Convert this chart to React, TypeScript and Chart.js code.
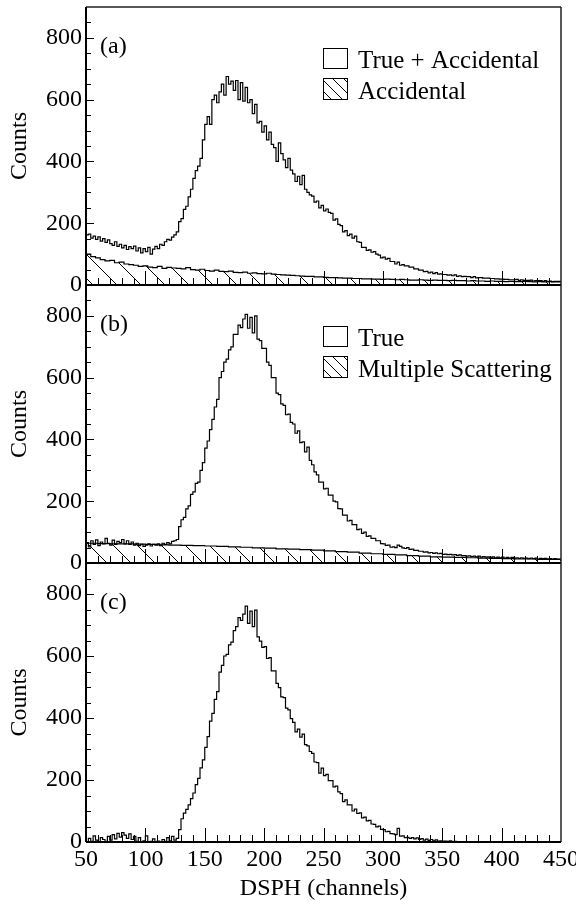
import React, { useEffect, useRef } from 'react';
import { Chart, registerables } from 'chart.js';

Chart.register(...registerables);

// ---------------- data ----------------
const FIRST_CHANNEL = 50;
const MAIN_BIN = 2;   // channels per bin, main histograms
const ACC_BIN = 4;    // channels per bin, accidental histogram
const MS_BIN = 10;    // channels per bin, multiple-scattering estimate

const xTickLabels = [50, 100, 150, 200, 250, 300, 350, 400, 450];
const yTickLabels = [0, 200, 400, 600, 800];

// (a) True + Accidental
const trueAccidental = [
  170, 162, 165, 152, 158, 148, 156, 142, 150, 138,
  146, 134, 128, 140, 125, 132, 120, 128, 115, 124,
  118, 126, 110, 120, 104, 118, 108, 122, 100, 116,
  125, 118, 132, 128, 140, 148, 145, 155, 162, 172,
  205, 215, 245, 255, 285, 310, 345, 370, 385, 410,
  470, 520, 545, 520, 600, 615, 590, 625, 650, 615,
  675, 650, 660, 630, 662, 600, 655, 595, 640, 590,
  600, 555, 585, 525, 530, 495, 515, 470, 495, 455,
  445, 400, 460, 425, 405, 380, 410, 372, 360, 335,
  352, 325, 355, 310, 300, 292, 288, 268, 272, 250,
  258, 240, 246, 235, 232, 210, 214, 196, 192, 172,
  176, 160, 165, 152, 158, 140, 138, 122, 122, 112,
  114, 106, 108, 100, 97, 88, 90, 84, 86, 76,
  76, 68, 74, 64, 66, 62, 62, 58, 58, 52,
  52, 48, 48, 43, 44, 39, 42, 37, 40, 35,
  36, 34, 34, 32, 33, 30, 33, 28, 30, 27,
  28, 27, 27, 24, 27, 23, 24, 24, 22, 22,
  22, 21, 21, 20, 20, 19, 19, 18, 18, 17,
  17, 17, 18, 15, 17, 15, 15, 15, 16, 13,
  14, 14, 14, 12, 14, 11, 13, 11, 12, 12,
];

// (a) Accidental
const accidental = [
  118, 100, 92, 88, 82, 78, 80, 72, 74, 68,
  66, 64, 60, 62, 58, 56, 60, 54, 57, 55,
  54, 52, 56, 50, 48, 51, 47, 45, 48, 44,
  43, 45, 41, 40, 42, 38, 39, 37, 36, 38,
  35, 34, 33, 32, 31, 30, 29, 28, 28, 26,
  26, 25, 24, 24, 23, 22, 22, 21, 21, 20,
  20, 19, 19, 18, 19, 18, 17, 18, 17, 16,
  16, 17, 16, 15, 16, 15, 15, 14, 15, 14,
  14, 13, 14, 13, 13, 12, 13, 12, 12, 11,
  12, 11, 11, 12, 11, 10, 11, 10, 11, 10,
];

// (b) True
const trueB = [
  58, 66, 52, 72, 60, 75, 56, 68, 62, 80,
  64, 58, 74, 60, 70, 66, 76, 62, 72, 60,
  68, 58, 64, 56, 60, 54, 58, 62, 55, 60,
  58, 62, 56, 64, 60, 66, 62, 70, 72, 76,
  118, 140, 148, 175, 185, 222, 230, 258, 262, 300,
  325, 372, 395, 432, 465, 505, 530, 600, 620, 650,
  660, 690, 700, 740, 740, 770, 762, 790, 805, 760,
  795, 745, 800, 725, 720, 695, 695, 650, 640, 600,
  600, 550, 545, 515, 510, 480, 482, 455, 450, 420,
  428, 390, 392, 360, 375, 332, 318, 295, 285, 262,
  262, 240, 242, 220, 220, 200, 198, 176, 175, 155,
  155, 136, 138, 124, 124, 108, 110, 96, 100, 86,
  88, 80, 80, 72, 72, 63, 62, 57, 58, 51,
  52, 50, 58, 54, 49, 47, 50, 44, 45, 41,
  41, 38, 38, 35, 36, 33, 34, 31, 33, 30,
  31, 28, 29, 27, 28, 26, 27, 25, 26, 24,
  24, 22, 23, 21, 22, 20, 22, 19, 21, 19,
  20, 18, 20, 17, 19, 17, 19, 16, 18, 16,
  18, 15, 17, 15, 17, 15, 16, 14, 16, 14,
  16, 13, 15, 14, 15, 13, 14, 13, 14, 13,
];

// (b) Multiple Scattering
const multipleScattering = [
  65, 64, 63, 62, 62, 61, 60, 59, 58, 57,
  56, 55, 54, 52, 51, 49, 48, 46, 45, 43,
  42, 39, 37, 35, 32, 30, 28, 26, 24, 22,
  20, 19, 18, 17, 16, 15, 14, 13, 13, 12,
];

// (c) True (subtracted)
const trueC = [
  4, 0, 12, 2, 20, 6, 0, 14, 8, 2,
  18, 6, 24, 10, 28, 16, 30, 22, 12, 26,
  8, 18, 2, 14, 0, 4, 20, 0, 2, 10,
  0, 3, 0, 8, 2, 14, 4, 18, 6, 12,
  40, 75, 93, 105, 120, 140, 158, 185, 205, 239,
  265, 305, 340, 390, 415, 460, 485, 548, 570, 600,
  605, 636, 645, 682, 695, 724, 715, 735, 761, 705,
  745, 695, 748, 662, 648, 628, 630, 592, 595, 552,
  552, 512, 498, 468, 466, 432, 426, 398, 386, 355,
  364, 338, 348, 314, 310, 292, 286, 258, 256, 222,
  238, 214, 218, 198, 198, 178, 180, 162, 156, 130,
  136, 120, 120, 100, 106, 92, 94, 78, 80, 68,
  70, 58, 57, 49, 51, 41, 40, 33, 34, 27,
  26, 24, 44, 19, 20, 14, 15, 12, 14, 10,
  13, 8, 11, 6, 9, 5, 8, 4, 7, 3,
  4, 3, 3, 2, 4, 1, 2, 1, 0, 1,
  0, 0, 0, 0, 0, 0, 0, 0, 0, 0,
  0, 0, 0, 0, 0, 0, 0, 0, 0, 0,
  0, 0, 0, 0, 0, 0, 0, 0, 0, 0,
  0, 0, 0, 0, 0, 0, 0, 0, 0, 0,
];

// ---------------- helpers ----------------
const SERIF = '"Liberation Serif", "DejaVu Serif", "Times New Roman", serif';

function histPoints(values: number[], width: number) {
  const pts = values.map((v, i) => ({ x: FIRST_CHANNEL + i * width, y: v }));
  pts.push({ x: FIRST_CHANNEL + values.length * width, y: values[values.length - 1] });
  return pts;
}

function makeHatch(): CanvasPattern | string {
  const s = 24;
  const c = document.createElement('canvas');
  c.width = s;
  c.height = s;
  const g = c.getContext('2d');
  if (!g) return 'rgba(0,0,0,0.2)';
  g.strokeStyle = '#000';
  g.lineWidth = 1;
  g.beginPath();
  g.moveTo(-2, -2); g.lineTo(s + 2, s + 2);
  g.moveTo(s - 2, -2); g.lineTo(s + 2, 2);
  g.moveTo(-2, s - 2); g.lineTo(2, s + 2);
  g.stroke();
  return g.createPattern(c, 'repeat') || 'rgba(0,0,0,0.2)';
}

type LegendEntry = { text: string; hatch: boolean };
type PanelSpec = {
  top: number;
  bottomPad: number;
  showX: boolean;
  drawTop: boolean;
  label: string;
  legend: LegendEntry[];
  lines: { values: number[]; width: number; hatch: boolean }[];
};

const decoPlugin = {
  id: 'panelDeco',
  afterDatasetsDraw(chart: any, _args: any, opts: any) {
    const { ctx, chartArea, scales } = chart;
    const { left, right, top, bottom } = chartArea;
    const x = scales.x;
    const y = scales.y;
    ctx.save();
    // x ticks (inward from bottom)
    ctx.strokeStyle = '#000';
    ctx.lineWidth = 1;
    for (let v = 60; v < 450; v += 10) {
      const px = Math.round(x.getPixelForValue(v)) + 0.5;
      const len = v % 50 === 0 ? 14 : 7;
      ctx.beginPath();
      ctx.moveTo(px, bottom);
      ctx.lineTo(px, bottom - len);
      ctx.stroke();
    }
    // y ticks (inward from left)
    for (let v = 50; v < 900; v += 50) {
      const py = Math.round(y.getPixelForValue(v)) + 0.5;
      const len = v % 200 === 0 ? 8 : 5;
      ctx.beginPath();
      ctx.moveTo(left, py);
      ctx.lineTo(left + len, py);
      ctx.stroke();
    }
    // frame
    ctx.strokeStyle = '#222';
    ctx.lineWidth = 1.5;
    ctx.beginPath();
    ctx.moveTo(right, top);
    ctx.lineTo(right, bottom);
    if (opts.drawTop) {
      ctx.moveTo(left, top);
      ctx.lineTo(right, top);
    }
    ctx.stroke();
    ctx.strokeStyle = '#000';
    ctx.lineWidth = 2;
    ctx.beginPath();
    ctx.moveTo(left, top);
    ctx.lineTo(left, bottom);
    ctx.moveTo(left, bottom);
    ctx.lineTo(right, bottom);
    ctx.stroke();

    // panel label
    ctx.fillStyle = '#000';
    ctx.font = `24px ${SERIF}`;
    ctx.textAlign = 'left';
    ctx.textBaseline = 'alphabetic';
    ctx.fillText(opts.label, left + 14, top + 45.5);

    // legend
    const entries: LegendEntry[] = opts.legend || [];
    const bx = 323;
    const bw = 24;
    entries.forEach((e, i) => {
      const by = top + 41 + i * 30;
      const bh = 20 + i;
      ctx.fillStyle = '#fff';
      ctx.fillRect(bx, by, bw, bh);
      if (e.hatch) {
        ctx.save();
        ctx.beginPath();
        ctx.rect(bx, by, bw, bh);
        ctx.clip();
        ctx.strokeStyle = '#000';
        ctx.lineWidth = 1;
        ctx.beginPath();
        for (let c = -24; c <= 24; c += 11) {
          ctx.moveTo(bx + c, by);
          ctx.lineTo(bx + c + bh + 4, by + bh + 4);
        }
        ctx.stroke();
        ctx.restore();
      }
      ctx.strokeStyle = '#000';
      ctx.lineWidth = 1;
      ctx.strokeRect(bx + 0.5, by + 0.5, bw, bh);
      ctx.fillStyle = '#000';
      ctx.font = `25px ${SERIF}`;
      ctx.fillText(e.text, 358, by + bh);
    });
    ctx.restore();
  },
};

function makeConfig(p: PanelSpec, hatch: CanvasPattern | string): any {
  const tickFont = { family: SERIF, size: 24 };
  const titleFont = { family: SERIF, size: 24, lineHeight: 1 };
  return {
    type: 'line',
    data: {
      datasets: p.lines.map((l) => ({
        data: histPoints(l.values, l.width),
        stepped: 'after',
        borderColor: '#000',
        borderWidth: 1.2,
        pointRadius: 0,
        fill: l.hatch ? 'origin' : false,
        backgroundColor: l.hatch ? hatch : 'transparent',
        order: l.hatch ? 1 : 0,
      })),
    },
    options: {
      responsive: false,
      animation: false,
      events: [],
      layout: { padding: { left: 0, right: 15, top: p.top, bottom: p.bottomPad } },
      plugins: {
        legend: { display: false },
        tooltip: { enabled: false },
        panelDeco: { label: p.label, legend: p.legend, drawTop: p.drawTop },
      },
      scales: {
        x: {
          type: 'linear',
          min: 50,
          max: 450,
          display: p.showX,
          afterBuildTicks: (s: any) => {
            s.ticks = xTickLabels.map((v) => ({ value: v }));
          },
          afterFit: (s: any) => {
            s.height = p.showX ? 59 : 0;
            s.paddingLeft = 0;
            s.paddingRight = 0;
          },
          grid: { display: false, drawTicks: false },
          border: { display: false },
          ticks: { font: tickFont, color: '#000', padding: 3, maxRotation: 0, autoSkip: false },
          title: {
            display: true,
            text: 'DSPH (channels)',
            font: titleFont,
            color: '#000',
            padding: 0,
          },
        },
        y: {
          type: 'linear',
          min: 0,
          max: 900,
          afterBuildTicks: (s: any) => {
            s.ticks = yTickLabels.map((v) => ({ value: v }));
          },
          afterFit: (s: any) => {
            s.width = 86;
            s.paddingTop = 0;
            s.paddingBottom = 0;
          },
          grid: { display: false, drawTicks: false },
          border: { display: false },
          ticks: { font: tickFont, color: '#000', padding: 4 },
          title: {
            display: true,
            text: 'Counts',
            font: titleFont,
            color: '#000',
            padding: { top: 8, bottom: 0 },
          },
        },
      },
    },
    plugins: [decoPlugin],
  };
}

const panels: PanelSpec[] = [
  {
    top: 7,
    bottomPad: 901 - 285,
    showX: false,
    drawTop: true,
    label: '(a)',
    legend: [
      { text: 'True + Accidental', hatch: false },
      { text: 'Accidental', hatch: true },
    ],
    lines: [
      { values: trueAccidental, width: MAIN_BIN, hatch: false },
      { values: accidental, width: ACC_BIN, hatch: true },
    ],
  },
  {
    top: 285,
    bottomPad: 901 - 563,
    showX: false,
    drawTop: false,
    label: '(b)',
    legend: [
      { text: 'True', hatch: false },
      { text: 'Multiple Scattering', hatch: true },
    ],
    lines: [
      { values: trueB, width: MAIN_BIN, hatch: false },
      { values: multipleScattering, width: MS_BIN, hatch: true },
    ],
  },
  {
    top: 563,
    bottomPad: 0,
    showX: true,
    drawTop: false,
    label: '(c)',
    legend: [],
    lines: [{ values: trueC, width: MAIN_BIN, hatch: false }],
  },
];

function Panel({ spec }: { spec: PanelSpec }) {
  const ref = useRef<HTMLCanvasElement>(null);
  useEffect(() => {
    if (!ref.current) return;
    const chart = new Chart(ref.current, makeConfig(spec, makeHatch()));
    return () => chart.destroy();
  }, [spec]);
  return (
    <canvas
      ref={ref}
      width={576}
      height={901}
      style={{ position: 'absolute', left: 0, top: 0, width: 576, height: 901 }}
    />
  );
}

export default function App() {
  return (
    <div
      style={{
        position: 'absolute',
        left: 0,
        top: 0,
        width: 576,
        height: 901,
        background: '#fff',
        overflow: 'hidden',
      }}
    >
      {panels.map((p, i) => (
        <Panel key={i} spec={p} />
      ))}
    </div>
  );
}
